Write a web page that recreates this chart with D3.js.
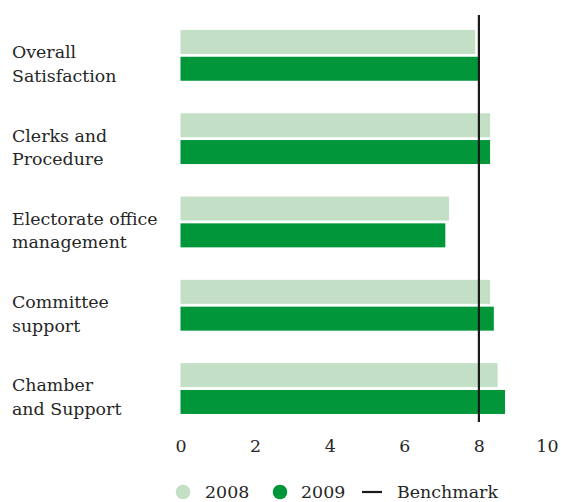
<!DOCTYPE html>
<html>
<head>
<meta charset="utf-8">
<script src="https://cdn.jsdelivr.net/npm/d3@7"></script>
<style>
html,body{margin:0;padding:0;background:#fff;}
svg{display:block;}
text{font-family:"DejaVu Serif",serif;fill:#262626;}
</style>
</head>
<body>
<svg id="chart" width="561" height="502"></svg>
<script>
const categories = [
  ["Overall", "Satisfaction"],
  ["Clerks and", "Procedure"],
  ["Electorate office", "management"],
  ["Committee", "support"],
  ["Chamber", "and Support"]
];
const seriesNames = ["2008", "2009"];
const values2008 = [7.9, 8.3, 7.2, 8.3, 8.5];
const values2009 = [8.0, 8.3, 7.1, 8.4, 8.7];
const benchmark = 8;
const xTicks = [0, 2, 4, 6, 8, 10];
const colors = ["#c3dfc5", "#009639"];

const svg = d3.select("#chart");
const fs = 17.4;

const x = d3.scaleLinear().domain([0, 10]).range([180.5, 553.5]);
const y0 = d3.scaleBand().domain(d3.range(categories.length)).range([13.7, 430.2])
  .paddingInner(0.39).paddingOuter(0.195);
const y1 = d3.scaleBand().domain(seriesNames).range([0, y0.bandwidth()]).paddingInner(0.105);

const series = [values2008, values2009];

const groups = svg.append("g").selectAll("g").data(categories).join("g")
  .attr("transform", (d, i) => `translate(0,${y0(i)})`);

groups.each(function(d, i) {
  const g = d3.select(this);
  seriesNames.forEach((s, si) => {
    g.append("rect")
      .attr("x", x(0))
      .attr("y", y1(s))
      .attr("width", x(series[si][i]) - x(0))
      .attr("height", y1.bandwidth())
      .attr("fill", colors[si]);
  });
  g.append("text").attr("x", 12).attr("y", 28.3).style("font-size", fs + "px").text(d[0]);
  g.append("text").attr("x", 12).attr("y", 51.7).style("font-size", fs + "px").text(d[1]);
});

// benchmark line
svg.append("line")
  .attr("x1", x(benchmark)).attr("x2", x(benchmark))
  .attr("y1", 15).attr("y2", 422)
  .attr("stroke", "#1a1a1a").attr("stroke-width", 2.2);

// x axis (labels only)
const axis = d3.axisBottom(x).tickValues(xTicks).tickSize(0).tickPadding(0);
const ag = svg.append("g").attr("transform", "translate(0,438)").call(axis);
ag.select(".domain").remove();
ag.selectAll("text")
  .style("font-size", fs + "px")
  .style("font-family", "DejaVu Serif, serif")
  .attr("fill", "#262626")
  .attr("dy", null).attr("y", 14)
  .attr("text-anchor", d => d === 10 ? "end" : "middle")
  .attr("dx", d => d === 10 ? 4.5 : 0);

// legend
const leg = svg.append("g").attr("transform", "translate(0,492)");
leg.append("circle").attr("cx", 183).attr("cy", 0).attr("r", 7.3).attr("fill", colors[0]);
leg.append("text").attr("x", 205).attr("y", 6).style("font-size", fs + "px").text(seriesNames[0]);
leg.append("circle").attr("cx", 280).attr("cy", 0).attr("r", 7.3).attr("fill", colors[1]);
leg.append("text").attr("x", 301).attr("y", 6).style("font-size", fs + "px").text(seriesNames[1]);
leg.append("line").attr("x1", 362).attr("x2", 382).attr("y1", 0).attr("y2", 0)
  .attr("stroke", "#1a1a1a").attr("stroke-width", 2.2);
leg.append("text").attr("x", 397).attr("y", 6).style("font-size", fs + "px").text("Benchmark");
</script>
</body>
</html>
